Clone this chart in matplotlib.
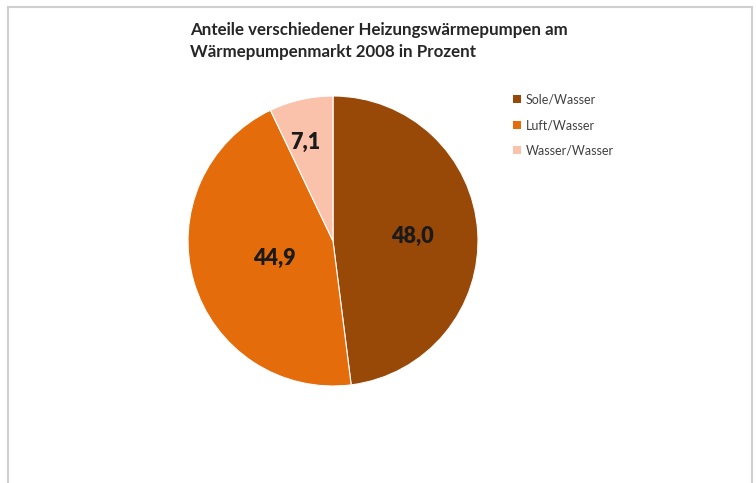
import matplotlib
matplotlib.use("Agg")
import matplotlib.pyplot as plt
from matplotlib.patches import Rectangle, Patch
import numpy as np

categories = ["Sole/Wasser", "Luft/Wasser", "Wasser/Wasser"]
values = [48.0, 44.9, 7.1]
labels = ["48,0", "44,9", "7,1"]
colors = ["#984807", "#E46C0A", "#FAC2AA"]
title = "Anteile verschiedener Heizungswärmepumpen am\nWärmepumpenmarkt 2008 in Prozent"

plt.rcParams['font.family'] = ['Lato', 'DejaVu Sans']

W, H = 756, 483
fig = plt.figure(figsize=(W/100, H/100), dpi=100)
fig.patch.set_facecolor("white")

# chart border
fig.add_artist(Rectangle((8/W, -0.05), (752-8)/W, 1.05 - 7/H, transform=fig.transFigure,
                         fill=False, edgecolor="#cfcfcf", linewidth=1.5))

cx, cy, r = 333, 241, 145
ax = fig.add_axes([(cx-r)/W, (H-cy-r)/H, 2*r/W, 2*r/H])
wedges, _ = ax.pie(values, colors=colors, startangle=90, counterclock=False,
                   wedgeprops=dict(edgecolor="white", linewidth=0.8))
ax.set_xlim(-1, 1); ax.set_ylim(-1, 1)
ax.set_aspect("equal")

label_r = [0.55, 0.42, 0.71]
label_shift = [0, 0, 3]
for w, lab, lr, sh in zip(wedges, labels, label_r, label_shift):
    ang = np.deg2rad((w.theta1 + w.theta2) / 2 + sh)
    ax.text(lr*np.cos(ang), lr*np.sin(ang), lab, ha="center", va="center",
            fontsize=15.5, fontweight="heavy", color="#1a1a1a")

fig.text(190/W, 1 - 22/H, title, ha="left", va="top", fontsize=12.2,
         fontweight="bold", color="#262626", linespacing=1.45)

handles = [Patch(facecolor=c, edgecolor="none") for c in colors]
fig.legend(handles, categories, loc="upper left", bbox_to_anchor=(502/W, 1 - 82/H),
           frameon=False, fontsize=9, handlelength=0.6, handleheight=0.6,
           handletextpad=0.4, labelspacing=1.1, labelcolor="#404040")

fig.savefig("out.png", dpi=100, facecolor="white")
